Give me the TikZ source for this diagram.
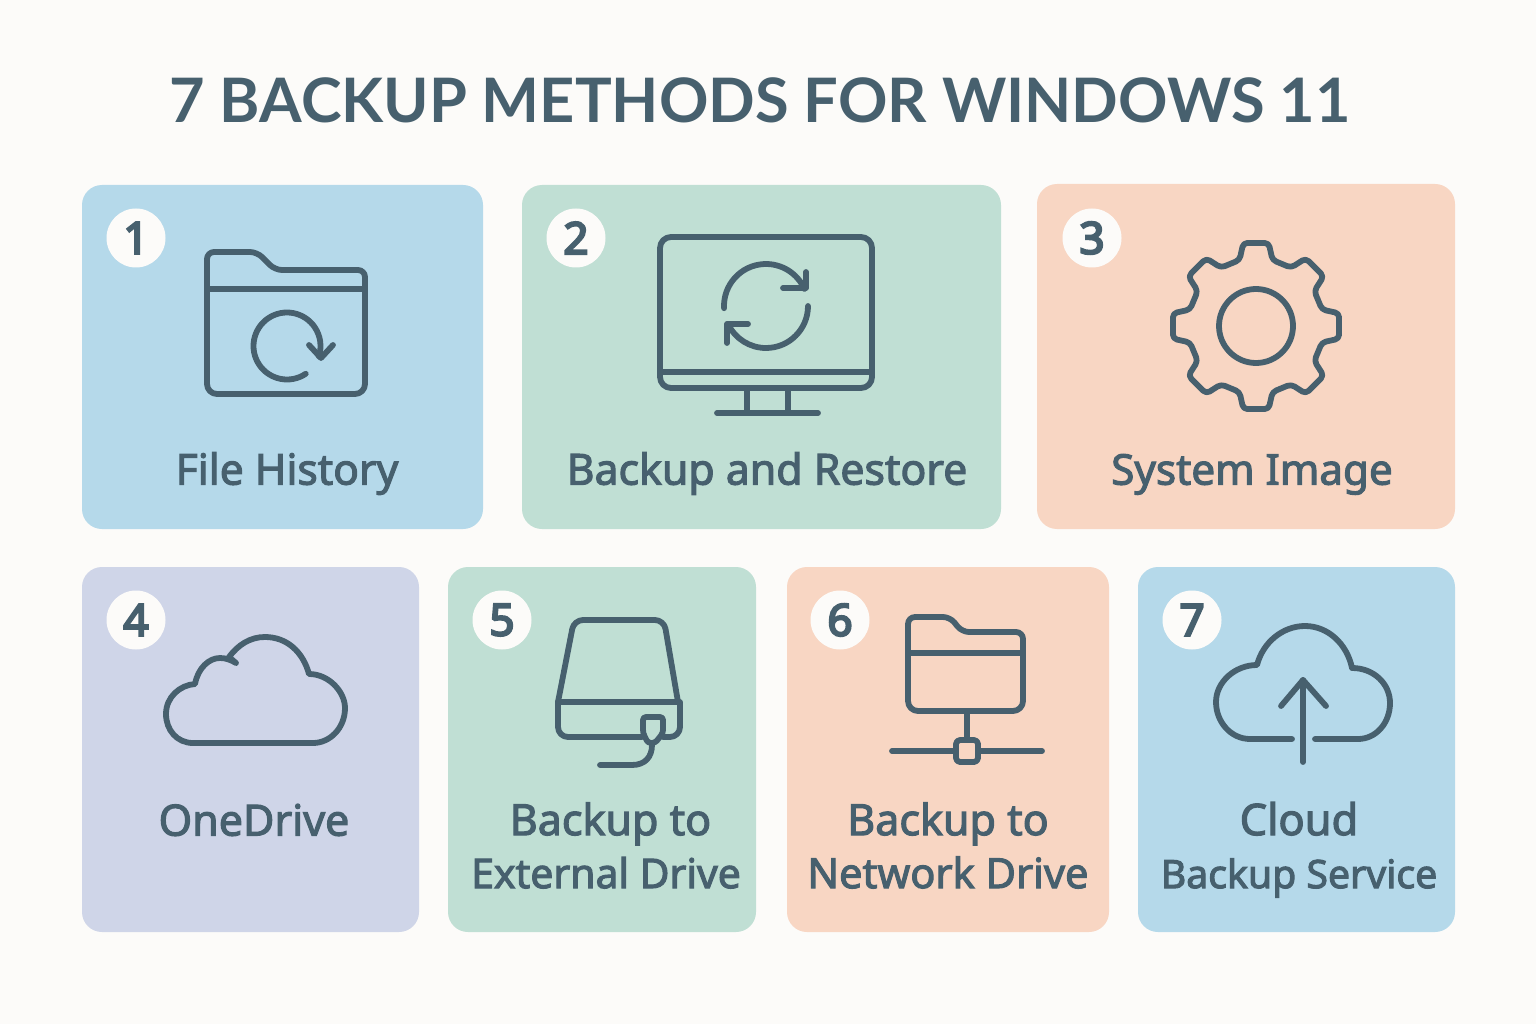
\documentclass[tikz,border=0pt]{standalone}
\usepackage{fontspec}
\setmainfont{Lato}[BoldFont={Lato Bold}]
\newfontface\lblfont{Noto Sans}[FakeBold=2.6]
\newfontface\numfont{Noto Sans}[FakeBold=5]
\definecolor{pagebg}{HTML}{FCFBF9}
\definecolor{ink}{HTML}{47606E}
\definecolor{cardblue}{HTML}{B5D9EA}
\definecolor{cardgreen}{HTML}{C0DFD4}
\definecolor{cardpeach}{HTML}{F8D6C3}
\definecolor{cardlav}{HTML}{CFD5E8}
\newcommand{\lsz}[1]{\fontsize{#1}{53}\selectfont\strut}
\tikzset{
  card/.style={rounded corners=20pt,inner sep=0pt,outer sep=0pt,draw=none},
  badge/.style={circle,fill=pagebg,minimum size=59pt,inner sep=0pt,text=ink,font=\numfont\fontsize{44}{44}\selectfont},
  lbl/.style={text=ink,align=center,inner sep=0pt,font=\lblfont\fontsize{42}{53}\selectfont},
  ttl/.style={text=ink,inner sep=0pt,font=\bfseries\fontsize{61.3}{62}\selectfont},
  icon/.style={draw=ink,line width=5.8pt,line join=round,line cap=round,fill=none},
}
\newcommand{\gtooth}[1]{-- (#1-14:68) -- (#1-8.7:84) -- (#1+8.7:84) -- (#1+14:68)}
\begin{document}
\begin{tikzpicture}[x=1pt,y=1pt,yscale=-1]
\useasboundingbox (0,0) rectangle (1536,1024);
\fill[pagebg] (0,0) rectangle (1536,1024);
\node[ttl] (title) at (760,100.5) {7 BACKUP METHODS FOR WINDOWS 11};
% cards
\node[card,fill=cardblue,minimum width=401pt,minimum height=344pt] (c1) at (282.5,357) {};
\node[card,fill=cardgreen,minimum width=479pt,minimum height=344pt] (c2) at (761.5,357) {};
\node[card,fill=cardpeach,minimum width=418pt,minimum height=345pt] (c3) at (1246,356.5) {};
\node[card,fill=cardlav,minimum width=337pt,minimum height=365pt] (c4) at (250.5,749.5) {};
\node[card,fill=cardgreen,minimum width=308pt,minimum height=365pt] (c5) at (602,749.5) {};
\node[card,fill=cardpeach,minimum width=322pt,minimum height=365pt] (c6) at (948,749.5) {};
\node[card,fill=cardblue,minimum width=317pt,minimum height=365pt] (c7) at (1296.5,749.5) {};
% badges
\node[badge] (b1) at (136,238) {1};
\node[badge] (b2) at (576,238) {2};
\node[badge] (b3) at (1092,238) {3};
\node[badge] (b4) at (136,620) {4};
\node[badge] (b5) at (502,620) {5};
\node[badge] (b6) at (840,620) {6};
\node[badge] (b7) at (1192,620) {7};
% labels
\node[lbl] (l1) at (287,474) {\lsz{42.6}File History};
\node[lbl] (l2) at (767,474) {\lsz{42.8}Backup and Restore};
\node[lbl] (l3) at (1252,474) {\lsz{42.2}System Image};
\node[lbl] (l4) at (254,825) {\lsz{43}OneDrive};
\node[lbl] (l5) at (606,851) {\hspace*{9pt}\lsz{43}Backup to\\\lsz{40.9}External Drive};
\node[lbl] (l6) at (948,851) {\lsz{43}Backup to\\\lsz{41.6}Network Drive};
\node[lbl] (l7) at (1299,851) {\lsz{43.5}Cloud\\\lsz{39.2}Backup Service};
% icon 1: folder with refresh
\draw[icon,rounded corners=7pt] (207,289) -- (207,252) -- (257,252) -- (275,270) -- (365,270) -- (365,289);
\draw[icon,rounded corners=10pt] (207,289) -- (207,394) -- (365,394) -- (365,289);
\draw[icon] (207,289) -- (365,289);
\draw[icon] (287,346) ++(56:33.5) arc[start angle=56,end angle=378,radius=33.5];
\draw[icon] (309,345) -- (321,358) -- (333,345);
% icon 2: monitor with sync
\draw[icon,rounded corners=11pt] (766,237) -- (872,237) -- (872,388) -- (660,388) -- (660,237) -- cycle;
\draw[icon] (660,372) -- (872,372);
\draw[icon] (747,388) -- (747,413) (788,388) -- (788,413);
\draw[icon] (717,413) -- (818,413);
\draw[icon] (766,306) ++(177:42) arc[start angle=177,end angle=336,radius=42];
\draw[icon] (806,272) -- (806,288) -- (783,288);
\draw[icon] (766,306) ++(0:42) arc[start angle=0,end angle=154,radius=42];
\draw[icon] (748,324) -- (727,324) -- (727,343);
% icon 3: gear
\draw[icon,rounded corners=4pt,shift={(1256,326)}] (-14:68) -- (-8.7:84) -- (8.7:84) -- (14:68)
  \gtooth{45} \gtooth{90} \gtooth{135} \gtooth{180} \gtooth{225} \gtooth{270} \gtooth{315} -- cycle;
\draw[icon] (1256,326) circle[radius=37];
% icon 4: cloud
\draw[icon] (193,743) .. controls (177,743) and (166,730) .. (166,714)
  .. controls (166,697) and (180,685) .. (195,684)
  .. controls (198,668) and (209,658) .. (220,658)
  .. controls (226,658) and (231,660) .. (236,663) -- (229,657)
  .. controls (238,645) and (250,637) .. (265,637)
  .. controls (287,637) and (303,652) .. (309,674)
  .. controls (329,674) and (345,692) .. (345,708)
  .. controls (345,728) and (330,743) .. (313,743) -- cycle;
% icon 5: external drive
\draw[icon,rounded corners=9pt] (558,702) -- (574,620) -- (664,620) -- (678,702);
\draw[icon] (558,702) -- (678,702);
\draw[icon,rounded corners=10pt] (558,702) -- (558,737) -- (642,737);
\draw[icon,rounded corners=10pt] (663,737) -- (680,737) -- (680,702);
\draw[icon,rounded corners=3pt] (643,733) -- (643,717) -- (663,717) -- (663,733) -- (655,743) -- (648,743) -- cycle;
\draw[icon] (652,745) .. controls (652,757) and (645,765) .. (632,765) -- (600,765);
% icon 6: network folder
\draw[icon,rounded corners=7pt] (908,653) -- (908,617) -- (950,617) -- (962,632) -- (1023,632) -- (1023,653);
\draw[icon,rounded corners=10pt] (908,653) -- (908,711) -- (1023,711) -- (1023,653);
\draw[icon] (908,653) -- (1023,653);
\draw[icon] (967,711) -- (967,740);
\draw[icon,rounded corners=4pt] (956,740) rectangle (978,762);
\draw[icon] (892,751) -- (956,751) (978,751) -- (1042,751);
% icon 7: cloud upload
\draw[icon] (1292,739) -- (1250,739)
  .. controls (1231,739) and (1216,722) .. (1216,702)
  .. controls (1216,682) and (1235,665) .. (1257,665)
  .. controls (1263,642) and (1283,626) .. (1305,626)
  .. controls (1328,626) and (1347,644) .. (1352,668)
  .. controls (1374,668) and (1390,684) .. (1390,703)
  .. controls (1390,723) and (1376,739) .. (1358,739) -- (1315,739);
\draw[icon] (1303,762) -- (1303,680);
\draw[icon] (1281,706) -- (1303,680) -- (1326,706);
\end{tikzpicture}
\end{document}
